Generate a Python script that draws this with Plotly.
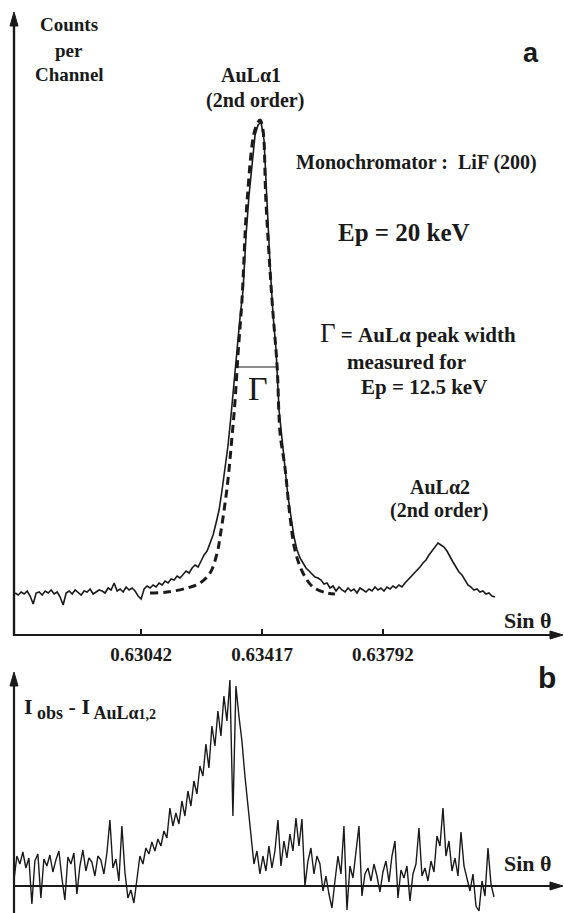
import numpy as np
import plotly.graph_objects as go

W, H = 564, 913

# ---------------- data ----------------
# Panel a: measured spectrum (counts per channel, arbitrary units), channels evenly spaced in sin(theta)
spec_start, spec_end = 0.62652, 0.64139
spectrum_counts = [
    42, 40, 43, 41, 44, 39, 31, 42, 43, 40, 44, 42, 45, 41, 43, 38, 30, 42, 44, 41,
    45, 42, 40, 44, 43, 46, 41, 43, 45, 44, 42, 47, 45, 52, 44, 46, 43, 48, 45, 47,
    44, 39, 36, 46, 49, 47, 50, 48, 52, 50, 54, 52, 56, 55, 59, 57, 61, 64, 62, 67,
    70, 68, 74, 80, 84, 92, 100, 112, 125, 145, 165, 190, 220, 255, 285, 318, 345, 400, 440, 470,
    500, 510, 513, 495, 430, 370, 320, 285, 225, 195, 165, 138, 118, 98, 85, 77, 72, 67, 64, 61,
    58, 57, 55, 51, 52, 47, 49, 44, 48, 45, 43, 47, 44, 46, 42, 47, 45, 43, 46, 44,
    48, 45, 47, 44, 48, 46, 49, 47, 50, 48, 52, 55, 58, 61, 64, 68, 72, 75, 80, 84,
    87, 92, 90, 88, 84, 78, 73, 68, 63, 60, 55, 50, 48, 45, 46, 43, 44, 41, 42, 39,
    38,
]

# Panel a: AuL alpha1 line profile measured at Ep = 12.5 keV (dashed)
fit_sin = [0.63070, 0.63123, 0.63185, 0.63225, 0.63256, 0.63278, 0.63287, 0.63309,
           0.63324, 0.63333, 0.63343, 0.63355, 0.63371, 0.63395, 0.63411, 0.63420,
           0.63429, 0.63448, 0.63464, 0.63473, 0.63488, 0.63504, 0.63519, 0.63544,
           0.63575, 0.63618, 0.63643]
fit_counts = [42, 43, 47, 52, 62, 82, 98, 148, 198, 232, 282, 335, 435, 505, 515, 505,
              435, 335, 268, 202, 168, 118, 85, 62, 48, 42, 41]

# Gamma bracket (peak width)
gamma_bounds = [0.63340, 0.63467]
gamma_level = 268

# Panel b: residual I_obs - I_AuLa1,2
res_start, res_end = 0.62648, 0.64136
residual = [
    5, 30, 22, 34, 18, 28, -18, 25, 32, -12, 27, 20, 31, 14, 26, 35, 8, -14, 29, 22,
    33, -8, 20, 36, 15, 28, 24, 10, 30, 26, 12, 33, 66, 18, 27, 5, 60, 14, -12, -4,
    -17, 8, 30, 22, 38, 32, 44, 35, 47, 40, 55, 48, 78, 60, 73, 62, 85, 70, 95, 80,
    105, 92, 120, 110, 142, 118, 160, 140, 175, 150, 190, 165, 206, 70, 200, 170, 145, 110, 80, 50,
    22, 35, 12, 30, 15, 40, 18, 35, 66, 20, 45, 28, 52, 35, 68, 40, 67, 0, 25, 38,
    12, 30, 22, -5, 10, -8, -22, 5, 30, 12, 60, -24, 20, 8, 35, 60, -10, 12, 18, 5,
    22, 10, -6, 14, 25, 4, 30, 45, -12, 16, 8, 20, -15, 12, 22, 58, 10, 18, 5, 25,
    14, 50, 40, 78, 30, 45, 15, 28, 10, 54, 20, 8, -5, 12, -20, -25, 5, -10, 38, 2,
    -11,
]

tick_vals = [0.63042, 0.63417, 0.63792]
tick_text = ["0.63042", "0.63417", "0.63792"]

# axis geometry (data units)
x_range = [0.62605, 0.64353]
ya_range = [0, 635]
yb_range = [-27, 246]

# ---------------- figure ----------------
spec_x = np.linspace(spec_start, spec_end, len(spectrum_counts))
res_x = np.linspace(res_start, res_end, len(residual))

ink = "#1a1a1a"
SERIF = "Liberation Serif"
SANS = "Liberation Sans"

fig = go.Figure()
fig.add_trace(go.Scatter(x=spec_x, y=spectrum_counts, mode="lines",
                         line=dict(color=ink, width=1.6), xaxis="x", yaxis="y",
                         showlegend=False, hoverinfo="skip"))
fig.add_trace(go.Scatter(x=fit_sin, y=fit_counts, mode="lines", line_shape="spline",
                         line=dict(color=ink, width=3.0, dash="8px,5px"),
                         xaxis="x", yaxis="y", showlegend=False, hoverinfo="skip"))
fig.add_trace(go.Scatter(x=res_x, y=residual, mode="lines",
                         line=dict(color=ink, width=1.4), xaxis="x2", yaxis="y2",
                         showlegend=False, hoverinfo="skip"))

# gamma bracket
fig.add_shape(type="line", xref="x", yref="y", x0=gamma_bounds[0], x1=gamma_bounds[1],
              y0=gamma_level, y1=gamma_level, line=dict(color=ink, width=1.2))


def P(xp, yp):
    return xp / W, 1 - yp / H


def label(text, xp, yp, size=20, family=SERIF, xanchor="center", yanchor="middle"):
    x, y = P(xp, yp)
    fig.add_annotation(text=text, x=x, y=y, xref="paper", yref="paper", showarrow=False,
                       xanchor=xanchor, yanchor=yanchor,
                       font=dict(family=family, size=size, color=ink))


def axis_line(x0p, y0p, x1p, y1p, w=2.2):
    a = P(x0p, y0p)
    b = P(x1p, y1p)
    fig.add_shape(type="line", xref="paper", yref="paper", x0=a[0], y0=a[1], x1=b[0], y1=b[1],
                  line=dict(color=ink, width=w))


def arrow_head(pts):
    coords = [P(*p) for p in pts]
    path = "M %f %f L %f %f L %f %f Z" % (coords[0][0], coords[0][1], coords[1][0], coords[1][1],
                                          coords[2][0], coords[2][1])
    fig.add_shape(type="path", xref="paper", yref="paper", path=path,
                  fillcolor=ink, line=dict(color=ink, width=1))


# panel a axes (pixel geometry of the frame)
axis_line(14, 636, 14, 22, 2.4)
arrow_head([(14, 12), (10, 26), (18, 26)])
axis_line(13, 635, 552, 635, 2.2)
arrow_head([(563, 635), (550, 631), (550, 639)])
# panel b axes
axis_line(14, 913, 14, 682, 2.2)
arrow_head([(14, 672), (10, 686), (18, 686)])
axis_line(13, 886, 552, 886, 1.8)
arrow_head([(563, 886), (550, 882), (550, 890)])

# texts
label("<b>Counts</b>", 69, 25, 19)
label("<b>per</b>", 69, 50, 19)
label("<b>Channel</b>", 69, 75, 19)
label("<b>a</b>", 531, 53, 27, SANS)
label("<b>AuLα1</b>", 251, 75, 20)
label("<b>(2nd order)</b>", 255, 100, 20)
label("<b>Monochromator :  LiF (200)</b>", 416, 163, 20)
label("<b>Ep = 20 keV</b>", 404, 232, 25)
label("<span style='font-size:27px'>Γ</span><b> = AuLα peak width</b>", 418, 333, 21)
label("<b>measured for</b>", 406, 362, 21)
label("<b>Ep = 12.5 keV</b>", 424, 387, 21)
label("Γ", 258, 388, 34)
label("<b>AuLα2</b>", 440, 487, 20)
label("<b>(2nd order)</b>", 439, 511, 20)
label("<b>Sin θ</b>", 528, 620, 22)
label("<b>b</b>", 547, 677, 30, SANS)
label("<b>I<sub><span style='font-size:18px'> obs</span></sub> - I<sub>"
      "<span style='font-size:18px'> AuLα</span><span style='font-size:14px'>1,2</span></sub></b>",
      22, 708, 22, xanchor="left")
label("<b>Sin θ</b>", 528, 863, 22)

fig.update_layout(
    width=W, height=H, margin=dict(l=0, r=0, t=0, b=0),
    paper_bgcolor="white", plot_bgcolor="white",
    xaxis=dict(domain=[0, 1], range=x_range, anchor="y", showgrid=False, zeroline=False,
               showline=False, ticks="inside", ticklen=6, tickwidth=1.5, tickcolor=ink,
               tickvals=tick_vals, ticktext=["<b>%s</b>" % t for t in tick_text],
               tickfont=dict(family=SERIF, size=19, color=ink), ticklabelstandoff=6),
    yaxis=dict(domain=[1 - 635 / H, 1], range=ya_range, showgrid=False, zeroline=False,
               showline=False, showticklabels=False, ticks=""),
    xaxis2=dict(domain=[0, 1], range=x_range, anchor="y2", matches="x", showgrid=False,
                zeroline=False, showline=False, showticklabels=False, ticks=""),
    yaxis2=dict(domain=[0, 1 - 640 / H], range=yb_range, anchor="x2", showgrid=False,
                zeroline=False, showline=False, showticklabels=False, ticks=""),
)

fig.write_html("out.html", config={"displayModeBar": False})
